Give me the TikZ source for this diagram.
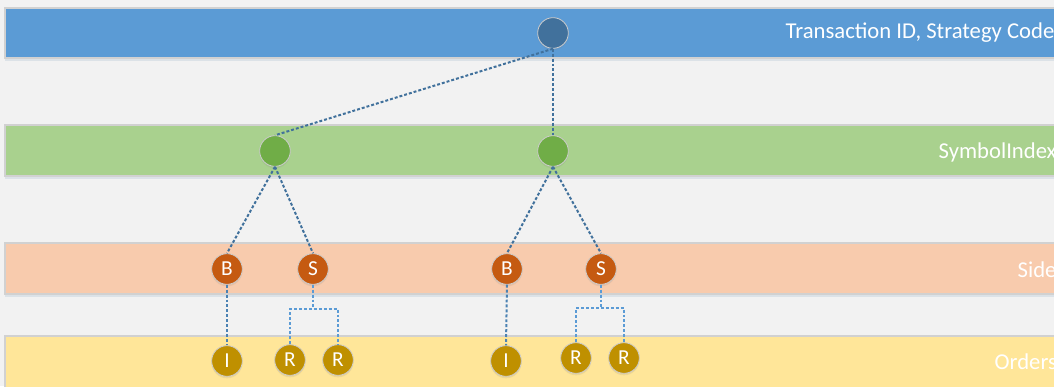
\documentclass[tikz,border=0pt]{standalone}
\usepackage{fontspec}
\setmainfont{Carlito}
\usepackage{xcolor}
\usetikzlibrary{positioning, shadows}

\definecolor{bgray}{HTML}{F2F2F2}
\definecolor{tblue}{HTML}{5B9BD5}
\definecolor{dblue}{HTML}{41719C}
\definecolor{tgreen}{HTML}{A9D18E}
\definecolor{dgreen}{HTML}{70AD47}
\definecolor{torange}{HTML}{F8CBAD}
\definecolor{dorange}{HTML}{C55A11}
\definecolor{tyellow}{HTML}{FFE699}
\definecolor{dyellow}{HTML}{BF9000}

\begin{document}
\begin{tikzpicture}[x=0.75pt, y=-0.75pt,
    band/.style={draw=black!18, line width=0.8pt,
      drop shadow={opacity=0.12, shadow xshift=0pt, shadow yshift=-2.5pt, fill=dblue}},
    lbl/.style={anchor=west, text=white, font=\fontsize{17}{19}\selectfont},
    dot/.style={circle, minimum size=23pt, inner sep=0pt, draw=white!80!black,
      line width=0.6pt, text=white, font=\fontsize{16}{18}\selectfont,
      drop shadow={opacity=0.15, shadow xshift=0pt, shadow yshift=-1.5pt}},
    link/.style={dblue, line width=1.5pt, dash pattern=on 2.2pt off 1.5pt},
    sublink/.style={tblue, line width=1.5pt, dash pattern=on 2.2pt off 1.5pt}]
  \clip (0,0) rectangle (1054,386);
  \fill[bgray] (0,0) rectangle (1054,386);

  % the four bands
  \draw[band, fill=tblue] (5,8) rectangle (1070,58);
  \draw[band, fill=tgreen] (5,125) rectangle (1070,176);
  \draw[band, fill=torange] (5,243) rectangle (1070,294);
  \draw[band, fill=tyellow] (5,336) rectangle (1070,400);

  \node[lbl] (tlbl) at (781,33) {Transaction ID, Strategy Code};
  \node[lbl] (slbl) at (934,152) {SymbolIndex};
  \node[lbl] (dlbl) at (1013,270) {Side};
  \node[lbl] (olbl) at (990,362) {Orders};

  % nodes
  \node[dot, fill=dblue] (root) at (553,33) {};
  \node[dot, fill=dgreen] (symA) at (275,151) {};
  \node[dot, fill=dgreen] (symB) at (553,151) {};

  \foreach \n/\x/\t in {bA/227/B, sA/313/S, bB/507/B, sB/601/S}
    \node[dot, fill=dorange] (\n) at (\x,269) {\t};

  \foreach \n/\x/\y/\t in {iA/227/361/I, rA1/290/360/R, rA2/338/360/R,
      iB/506/361/I, rB1/576/358/R, rB2/624/358/R}
    \node[dot, fill=dyellow] (\n) at (\x,\y) {\t};

  \coordinate (kA) at (313,309);
  \coordinate (kB) at (601,308);

  % links
  \draw[link] (root.south) -- (symA.north);
  \draw[link] (root.south) -- (symB.north);
  \draw[link] (symA.south) -- (bA.north);
  \draw[link] (symA.south) -- (sA.north);
  \draw[link] (symB.south) -- (bB.north);
  \draw[link] (symB.south) -- (sB.north);

  \draw[sublink, dblue!60!tblue] (bA.south) -- (iA.north);
  \draw[sublink, dblue!60!tblue] (bB.south) -- (iB.north);
  \draw[sublink] (sA.south) -- (kA);
  \draw[sublink] (rA1.north) |- (kA) -| (rA2.north);
  \draw[sublink] (sB.south) -- (kB);
  \draw[sublink] (rB1.north) |- (kB) -| (rB2.north);
\end{tikzpicture}
\end{document}
